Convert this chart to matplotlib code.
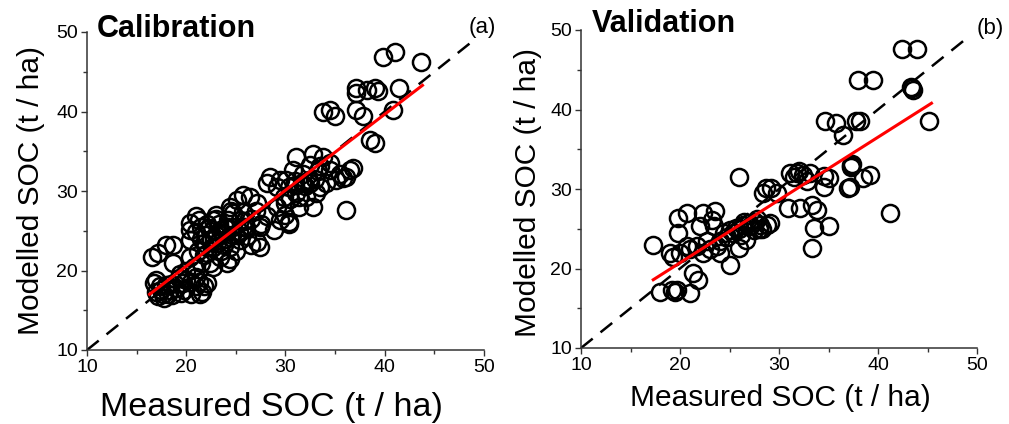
import numpy as np
import matplotlib
matplotlib.use("Agg")
import matplotlib.pyplot as plt
from matplotlib.ticker import MultipleLocator

plt.rcParams['font.family'] = ['Liberation Sans', 'DejaVu Sans']

# ---------------- data ----------------
cal_measured = [
    39.8, 41.0, 43.7,
    37.1, 37.1, 38.2, 39.0, 39.3, 41.4, 40.8, 37.8, 37.1, 38.5, 39.0, 33.8, 34.5, 35.0,
    31.1, 32.8, 33.8, 30.8, 31.8, 33.5, 34.5, 35.5, 36.5, 36.1, 35.1, 34.1, 32.5, 30.4,
    29.4, 29.8, 31.1, 32.1, 33.1, 31.4, 32.8, 29.1, 36.1, 30.4, 36.8, 35.8, 32.4,
    22.1, 22.7, 23.4, 24.1, 24.4, 25.1, 25.7, 26.4, 27.1, 28.1, 29.1, 28.4, 30.1, 30.4,
    29.4, 28.1, 27.4, 25.4, 25.7, 24.7, 27.4, 27.1, 28.8, 26.1, 22.7, 24.4, 23.4, 24.4,
    22.4, 31.4, 31.7,
    16.5, 17.2, 18.0, 18.7, 16.8, 17.4, 18.0, 17.0, 17.7, 18.4, 18.7, 19.4, 20.4, 20.4,
    20.4, 20.4, 21.0, 21.6, 22.1, 21.0, 22.7, 24.1, 22.1, 23.1, 19.7, 23.7, 24.7, 25.4,
    25.7,
    19.0, 19.8, 20.5, 21.3, 17.5, 18.2, 19.3, 20.0, 20.8, 21.5, 21.2, 21.8, 22.5, 23.0,
    21.0, 21.5, 23.5, 24.0, 25.0, 26.0, 26.5, 27.0, 23.0, 21.0, 22.0, 26.5, 27.5, 25.0,
    30.0, 31.0, 33.0, 33.5, 34.5, 30.0,
    17.2, 17.8, 18.6, 19.5, 20.5, 21.4, 21.8, 20.0, 18.5, 17.0,
    21.5, 22.3, 22.8, 23.3, 24.2, 24.6, 23.8, 22.6, 21.8, 25.3, 25.8, 23.0, 21.3, 24.5,
    31.0, 32.0, 33.3, 30.5, 32.5,
]
cal_modelled = [
    46.8, 47.5, 46.2,
    42.9, 42.3, 42.7, 42.9, 42.6, 42.9, 40.2, 39.4, 40.2, 36.4, 36.0, 40.0, 40.2, 39.4,
    34.3, 34.7, 34.3, 32.6, 32.2, 33.1, 32.6, 32.2, 32.6, 31.8, 31.4, 31.0, 31.0, 30.5,
    31.4, 29.3, 29.7, 29.3, 29.7, 28.0, 28.0, 28.0, 27.6, 26.1, 32.9, 31.6, 31.4,
    25.9, 26.4, 25.1, 25.5, 28.0, 28.9, 29.5, 29.3, 28.5, 31.0, 30.5, 31.8, 31.4, 25.9,
    26.4, 26.8, 25.5, 26.4, 27.4, 27.2, 23.0, 23.6, 25.1, 24.3, 23.0, 23.0, 21.7, 21.5,
    20.9, 29.3, 31.0,
    21.7, 22.2, 23.2, 23.2, 18.4, 18.0, 18.2, 17.3, 17.1, 17.5, 20.9, 19.6, 21.7, 23.8,
    25.1, 26.0, 18.0, 17.3, 18.4, 19.2, 20.5, 20.9, 22.2, 23.4, 18.4, 24.7, 25.5, 23.8,
    25.5,
    17.8, 17.6, 18.5, 18.6, 17.5, 17.0, 19.0, 20.0, 20.5, 21.0, 22.5, 23.5, 24.0, 24.5,
    24.8, 25.5, 22.5, 24.0, 24.5, 25.5, 26.5, 27.5, 27.0, 26.8, 24.5, 23.2, 25.8, 22.5,
    28.5, 30.8, 31.5, 30.5, 33.5, 27.0,
    16.8, 16.5, 16.9, 17.2, 17.0, 17.0, 18.0, 18.8, 18.3, 18.8,
    24.0, 25.3, 24.0, 25.8, 26.3, 24.5, 23.2, 22.8, 22.0, 25.0, 26.2, 26.5, 26.3, 27.5,
    31.3, 30.6, 32.5, 29.0, 33.3,
]

val_measured = [
    42.4, 43.9, 38.0, 39.5, 43.4, 43.5, 43.3, 45.2, 34.6, 35.8, 36.5, 37.8, 38.2,
    37.3, 37.3, 37.4, 39.2, 38.5, 37.0, 37.2, 41.2, 26.0,
    31.1, 31.8, 32.4, 33.1, 34.5, 35.1, 34.5, 28.7, 29.2, 28.4, 29.8,
    30.9, 32.1, 33.3, 33.8, 33.5, 35.0, 33.3,
    29.1, 28.1, 27.6, 27.1, 26.4, 25.7, 25.4, 24.7, 26.7, 26.0, 25.0,
    23.7, 23.0, 22.3, 21.7, 21.0, 20.0, 19.0, 19.3, 17.3, 19.8, 19.8, 20.7, 22.3, 23.5,
    22.0, 23.4, 23.2, 24.4, 22.7, 20.7, 21.3, 21.8,
    18.0, 19.2, 19.5, 19.7, 21.0,
    31.5, 32.0, 32.8, 28.0, 27.5, 26.2, 24.0, 26.5,
    24.0, 25.0, 26.0, 27.0, 28.3, 28.8, 27.8,
]
val_modelled = [
    47.6, 47.6, 43.7, 43.7, 42.7, 42.5, 42.8, 38.5, 38.5, 38.3, 36.8, 38.5, 38.5,
    33.0, 32.8, 33.1, 31.8, 31.4, 30.1, 30.3, 27.0, 31.5,
    32.0, 32.0, 31.8, 32.0, 31.6, 31.4, 30.3, 30.1, 30.1, 29.5, 29.5,
    27.6, 27.6, 28.0, 27.4, 25.1, 25.3, 22.6,
    25.7, 25.5, 25.9, 25.3, 25.5, 25.1, 24.5, 24.0, 23.6, 22.6, 20.5,
    22.8, 22.4, 21.9, 22.8, 22.4, 21.9, 21.9, 21.5, 23.0, 24.5, 26.3, 27.0, 27.0, 27.2,
    25.3, 25.3, 26.1, 24.5, 23.4, 22.8, 19.4, 18.6,
    17.1, 17.3, 17.1, 17.3, 16.9,
    31.5, 32.3, 31.0, 25.0, 24.8, 24.2, 22.0, 25.8,
    23.5, 24.8, 25.0, 25.7, 25.0, 25.5, 26.2,
]

# regression lines: slope, intercept, x-range
cal_fit = (0.956, 1.42, 16.3, 43.8)
val_fit = (0.790, 4.92, 17.3, 45.4)

panels = [
    dict(title="Calibration", tag="(a)", xm=cal_measured, ym=cal_modelled, fit=cal_fit,
         rect=[87/1009, 1-350/424, 397/1009, 318/424],
         title_xy=(0.025, 0.984), tag_xy=(0.997, 1.013),
         xlabel_xy=(0.465, -0.180), xlabel_fs=24.5,
         ylabel_xy=(-0.141, 0.503)),
    dict(title="Validation", tag="(b)", xm=val_measured, ym=val_modelled, fit=val_fit,
         rect=[581/1009, 1-348/424, 396/1009, 318/424],
         title_xy=(0.028, 0.994), tag_xy=(1.033, 1.006),
         xlabel_xy=(0.5025, -0.157), xlabel_fs=21.5,
         ylabel_xy=(-0.134, 0.49)),
]

ticks = [10, 20, 30, 40, 50]
spine_col = '#333333'

fig = plt.figure(figsize=(10.09, 4.24), dpi=100)
for p in panels:
    ax = fig.add_axes(p['rect'])
    ax.set_xlim(10, 50)
    ax.set_ylim(10, 50)
    # 1:1 line
    ax.plot([10, 49], [10, 49], color='black', lw=1.8, dashes=(6, 4), zorder=1)
    ax.plot(p['xm'], p['ym'], linestyle='none', marker='o', markersize=12.3,
            markerfacecolor='none', markeredgecolor='black', markeredgewidth=1.8,
            zorder=2, clip_on=False)
    s, b, x0, x1 = p['fit']
    xs = np.array([x0, x1])
    ax.plot(xs, s * xs + b, color='#ff0000', lw=2.2, zorder=3)

    for side in ['top', 'right']:
        ax.spines[side].set_visible(False)
    for side in ['left', 'bottom']:
        ax.spines[side].set_color(spine_col)
        ax.spines[side].set_linewidth(1.1)
    ax.set_xticks(ticks)
    ax.set_yticks(ticks)
    ax.xaxis.set_minor_locator(MultipleLocator(5))
    ax.yaxis.set_minor_locator(MultipleLocator(5))
    ax.tick_params(which='major', direction='out', length=4.5, width=1.0,
                   color=spine_col, labelsize=14, pad=2)
    ax.tick_params(which='minor', direction='out', length=3, width=1.0, color=spine_col)

    ax.text(*p['title_xy'], p['title'], transform=ax.transAxes, fontsize=22,
            fontweight='bold', ha='left', va='baseline')
    ax.text(*p['tag_xy'], p['tag'], transform=ax.transAxes, fontsize=16,
            ha='center', va='center')
    ax.text(*p['xlabel_xy'], "Measured SOC (t / ha)", transform=ax.transAxes,
            fontsize=p['xlabel_fs'], ha='center', va='center')
    ax.text(*p['ylabel_xy'], "Modelled SOC (t / ha)", transform=ax.transAxes,
            fontsize=21.5, ha='center', va='center', rotation=90)

fig.savefig("out.png", dpi=100)
